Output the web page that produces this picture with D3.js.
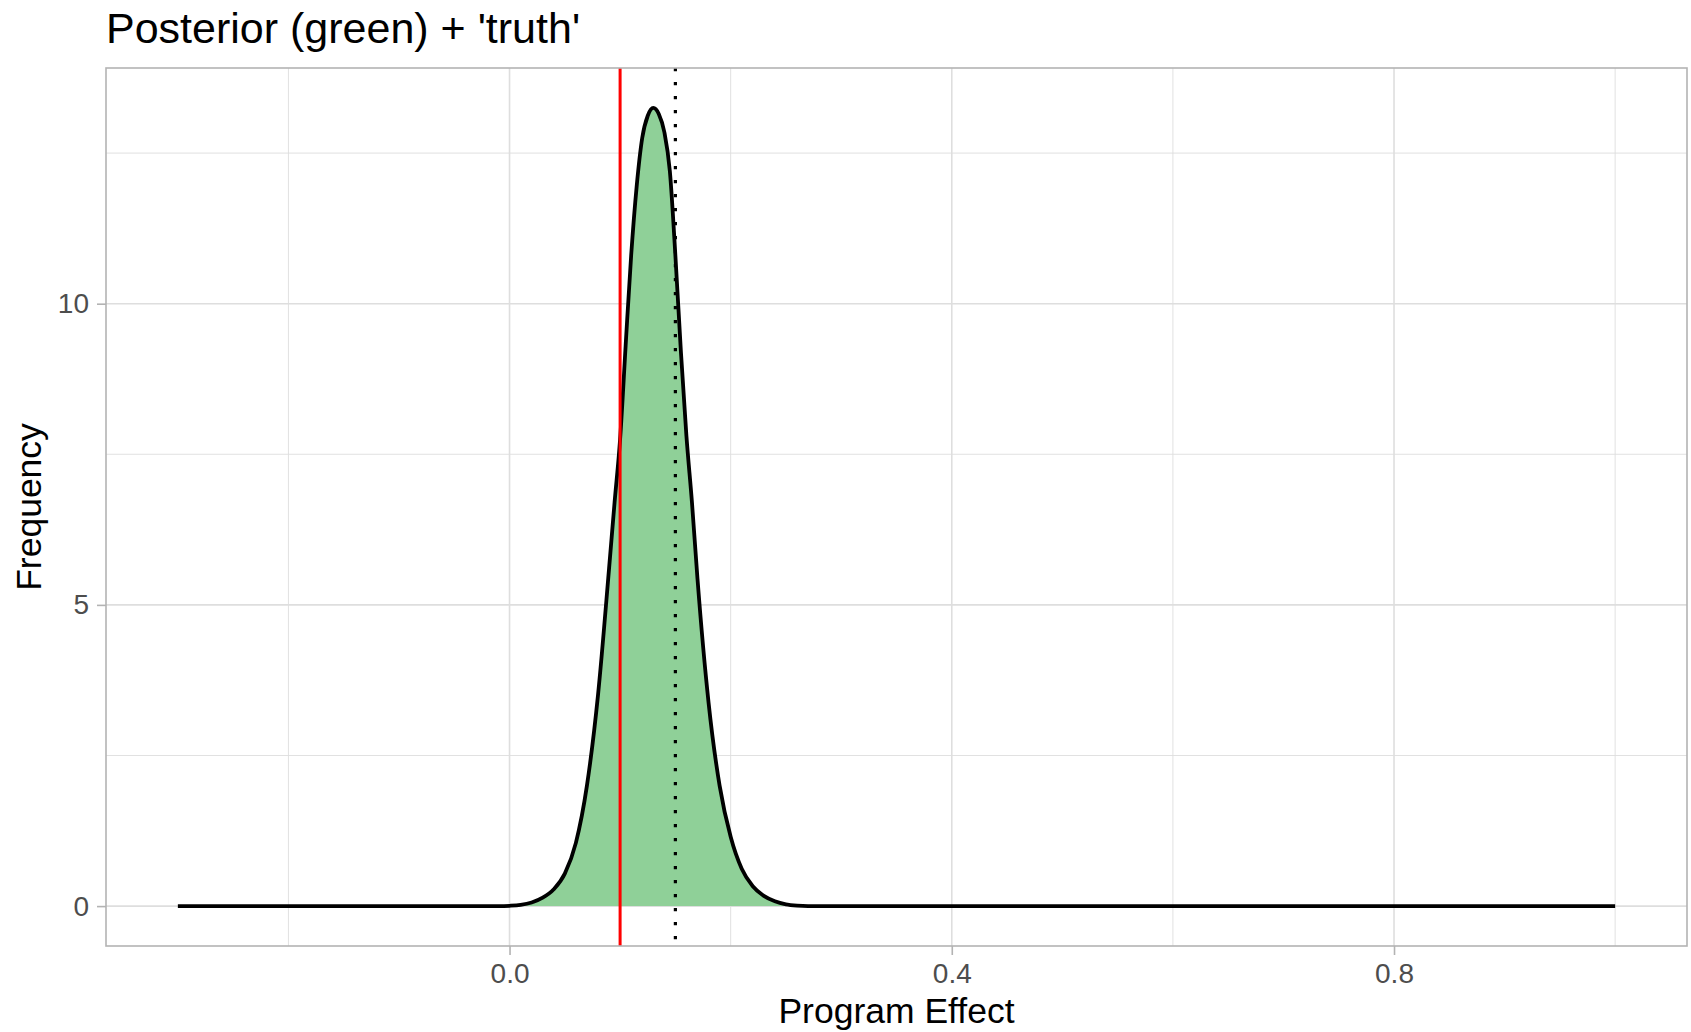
<!DOCTYPE html>
<meta charset="utf-8">
<style>

body {
  margin: 0;
  background: #fff;
}

text {
  font-family: "Liberation Sans", Arial, sans-serif;
}

.grid line {
  stroke: #dedede;
}

.axis text {
  fill: #4d4d4d;
  font-size: 28px;
}

.axis line, .axis path {
  stroke: #b3b3b3;
}

</style>
<svg width="1691" height="1032"></svg>
<script src="https://d3js.org/d3.v7.min.js"></script>
<script>

// posterior density of the program effect
var effect  = [-0.3, -0.01, 0.00, 0.01, 0.02, 0.03, 0.04, 0.05, 0.06, 0.07, 0.08, 0.09, 0.095, 0.10, 0.105,
               0.11, 0.115, 0.12, 0.125, 0.13, 0.135, 0.14, 0.145, 0.15, 0.155, 0.16, 0.165, 0.17,
               0.18, 0.19, 0.20, 0.21, 0.22, 0.23, 0.24, 0.25, 0.26, 0.27, 1.0];
var density = [0, 0, 0.005, 0.02, 0.06, 0.14, 0.28, 0.54, 1.05, 2.0, 3.5, 5.6, 6.7, 7.75, 9.3,
               10.8, 11.95, 12.75, 13.12, 13.25, 13.15, 12.85, 12.2, 10.8, 9.2, 7.8, 6.7, 5.43,
               3.38, 2.0, 1.15, 0.62, 0.33, 0.17, 0.08, 0.03, 0.008, 0, 0];

var truth = 0.1,
    estimate = 0.15;

var xMajor = [0.0, 0.4, 0.8],
    xMinor = [-0.2, 0.2, 0.6, 1.0],
    yMajor = [0, 5, 10],
    yMinor = [2.5, 7.5, 12.5];

var svg = d3.select("svg"),
    pLeft = 106, pRight = 1687, pTop = 68, pBottom = 946;

var data = effect.map(function(d, i) { return {x: d, y: density[i]}; });

var xr = d3.extent(effect), xpad = (xr[1] - xr[0]) * 0.05;
var yr = [0, d3.max(density)], ypad = yr[1] * 0.05;

var x = d3.scaleLinear().domain([xr[0] - xpad, xr[1] + xpad]).range([pLeft, pRight]);
var y = d3.scaleLinear().domain([yr[0] - ypad, yr[1] + ypad]).range([pBottom, pTop]);

// grid
var grid = svg.append("g").attr("class", "grid");
grid.selectAll(".xmin").data(xMinor).enter().append("line")
    .attr("x1", x).attr("x2", x).attr("y1", pTop).attr("y2", pBottom)
    .attr("stroke-width", 0.9);
grid.selectAll(".ymin").data(yMinor).enter().append("line")
    .attr("y1", y).attr("y2", y).attr("x1", pLeft).attr("x2", pRight)
    .attr("stroke-width", 0.9);
grid.selectAll(".xmaj").data(xMajor).enter().append("line")
    .attr("x1", x).attr("x2", x).attr("y1", pTop).attr("y2", pBottom)
    .attr("stroke-width", 1.6);
grid.selectAll(".ymaj").data(yMajor).enter().append("line")
    .attr("y1", y).attr("y2", y).attr("x1", pLeft).attr("x2", pRight)
    .attr("stroke-width", 1.6);

// density
var area = d3.area()
    .x(function(d) { return x(d.x); })
    .y0(y(0))
    .y1(function(d) { return y(d.y); })
    .curve(d3.curveMonotoneX);

var line = d3.line()
    .x(function(d) { return x(d.x); })
    .y(function(d) { return y(d.y); })
    .curve(d3.curveMonotoneX);

svg.append("path")
    .datum(data)
    .attr("d", area)
    .attr("fill", "#8fd098");

svg.append("path")
    .datum(data)
    .attr("d", line)
    .attr("fill", "none")
    .attr("stroke", "#000")
    .attr("stroke-width", 3.8)
    .attr("stroke-linejoin", "round");

svg.append("line")
    .attr("x1", x(truth)).attr("x2", x(truth))
    .attr("y1", pTop).attr("y2", pBottom)
    .attr("stroke", "#ff0000")
    .attr("stroke-width", 3);

svg.append("line")
    .attr("x1", x(estimate)).attr("x2", x(estimate))
    .attr("y1", pTop).attr("y2", pBottom)
    .attr("stroke", "#000")
    .attr("stroke-width", 3.2)
    .attr("stroke-dasharray", "3.2 10.8");

// panel border
svg.append("rect")
    .attr("x", pLeft).attr("y", pTop)
    .attr("width", pRight - pLeft).attr("height", pBottom - pTop)
    .attr("fill", "none")
    .attr("stroke", "#b3b3b3")
    .attr("stroke-width", 1.6);

// axes
svg.append("g")
    .attr("class", "axis")
    .attr("transform", "translate(0," + pBottom + ")")
    .call(d3.axisBottom(x).tickValues(xMajor).tickFormat(d3.format(".1f")).tickSize(9).tickPadding(8))
    .call(function(g) { g.select(".domain").remove(); })
    .call(function(g) { g.selectAll("line").attr("stroke-width", 1.6); })
    .call(function(g) { g.selectAll("text").attr("font-family", null).attr("font-size", null); });

svg.append("g")
    .attr("class", "axis")
    .attr("transform", "translate(" + pLeft + ",0)")
    .call(d3.axisLeft(y).tickValues(yMajor).tickFormat(d3.format("d")).tickSize(9).tickPadding(8))
    .call(function(g) { g.select(".domain").remove(); })
    .call(function(g) { g.selectAll("line").attr("stroke-width", 1.6); })
    .call(function(g) { g.selectAll("text").attr("font-family", null).attr("font-size", null); });

// labels
svg.append("text")
    .attr("x", pLeft)
    .attr("y", 43)
    .attr("font-size", 43)
    .text("Posterior (green) + 'truth'");

svg.append("text")
    .attr("x", (pLeft + pRight) / 2)
    .attr("y", 1023)
    .attr("text-anchor", "middle")
    .attr("font-size", 35.5)
    .text("Program Effect");

svg.append("text")
    .attr("transform", "translate(41," + (pTop + pBottom) / 2 + ") rotate(-90)")
    .attr("text-anchor", "middle")
    .attr("font-size", 35.5)
    .text("Frequency");

</script>
